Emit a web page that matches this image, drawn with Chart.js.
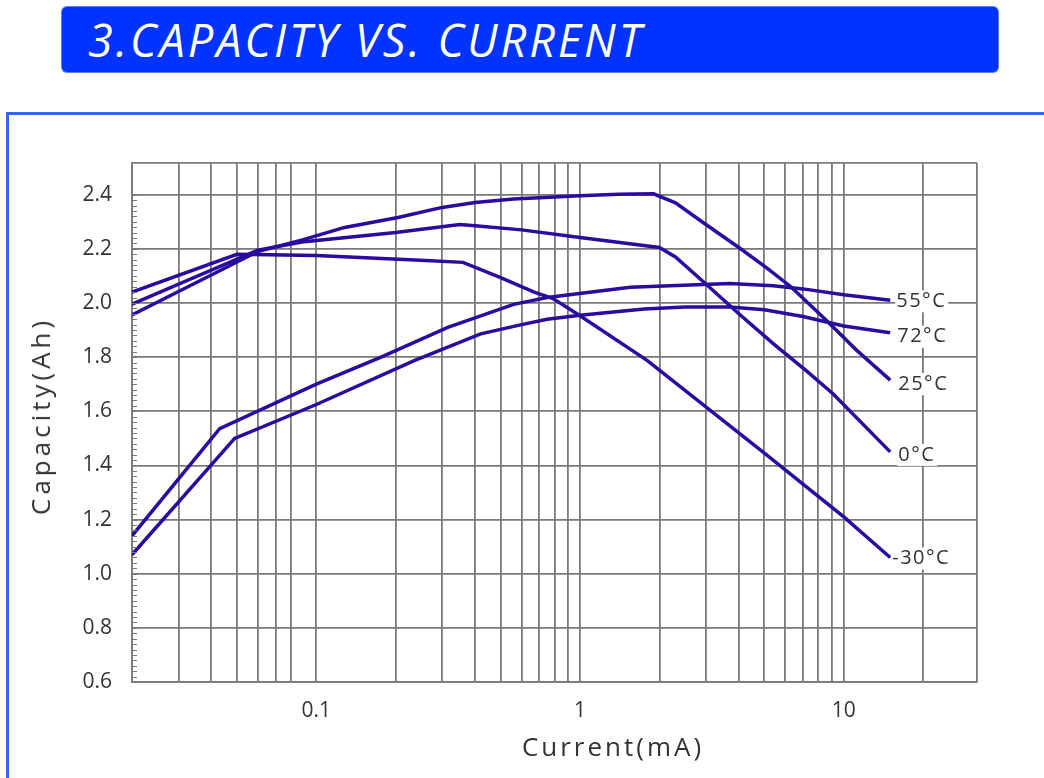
<!DOCTYPE html>
<html>
<head>
<meta charset="utf-8">
<title>Capacity vs. Current</title>
<script src="https://cdn.jsdelivr.net/npm/chart.js@4.4.1/dist/chart.umd.min.js"></script>
<style>
    html, body { margin: 0; padding: 0; background: #fff; }
    body { width: 1044px; height: 778px; position: relative; overflow: hidden; font-family: 'Open Sans', sans-serif; }
    .banner {
        position: absolute; left: 62px; top: 7px; width: 936px; height: 65px;
        background: #0033ff; border-radius: 5px; box-shadow: 0 0 0 1px #5c80ff;
    }
    .banner span {
        position: absolute; left: 26px; top: 3px; color: #fff; letter-spacing: 3px;
        font-style: italic; font-size: 45px; line-height: 60px; white-space: pre;
    }
    .frame {
        position: absolute; left: 6px; top: 112px; width: 1060px; height: 700px;
        border-top: 3px solid #3364ff; border-left: 3px solid #3364ff;
    }
    #wrap { position: absolute; left: 0; top: 0; width: 1044px; height: 778px; }
    .ytitle {
        position: absolute; left: 40px; top: 416px; color: #333; font-size: 26px; letter-spacing: 4px;
        transform: translate(-50%, -50%) rotate(-90deg); white-space: nowrap;
    }
    .xtitle {
        position: absolute; left: 613px; top: 746px; color: #333; font-size: 26px; letter-spacing: 3px;
        transform: translate(-50%, -50%); white-space: nowrap;
    }
</style>
</head>
<body>
<div class="banner"><span>3.CAPACITY VS. CURRENT</span></div>
<div class="frame"></div>
<div id="wrap"><canvas id="chart" width="1044" height="778"></canvas></div>
<div class="ytitle">Capacity(Ah)</div>
<div class="xtitle">Current(mA)</div>
<script>
/* ---- data ---- */
const cur55 = [0.02, 0.043, 0.1, 0.176, 0.315, 0.56, 0.75, 1.55, 3.7, 5.4, 7, 10, 15];
const cap55 = [1.14, 1.536, 1.70, 1.80, 1.91, 1.995, 2.02, 2.058, 2.072, 2.064, 2.052, 2.03, 2.01];

const cur72 = [0.02, 0.049, 0.1, 0.235, 0.42, 0.6, 0.75, 1, 1.75, 2.5, 3.7, 5, 7, 10, 15];
const cap72 = [1.07, 1.50, 1.625, 1.787, 1.886, 1.92, 1.94, 1.955, 1.978, 1.985, 1.985, 1.975, 1.95, 1.915, 1.89];

const cur25 = [0.02, 0.06, 0.09, 0.128, 0.204, 0.3, 0.4, 0.56, 1, 1.4, 1.9, 2.3, 3, 4, 5.1, 6.3, 8.6, 11.2, 15];
const cap25 = [1.956, 2.19, 2.235, 2.279, 2.316, 2.353, 2.371, 2.384, 2.396, 2.402, 2.403, 2.37, 2.29, 2.205, 2.13, 2.06, 1.935, 1.825, 1.715];

const cur0 = [0.02, 0.06, 0.088, 0.2, 0.35, 0.4, 0.6, 1, 2, 2.3, 3, 4, 5.4, 7.2, 9.1, 15];
const cap0 = [1.996, 2.195, 2.225, 2.26, 2.29, 2.285, 2.27, 2.242, 2.205, 2.17, 2.07, 1.96, 1.85, 1.75, 1.665, 1.45];

const curM30 = [0.02, 0.05, 0.1, 0.26, 0.36, 0.5, 0.67, 0.79, 1, 1.8, 5, 10, 15];
const capM30 = [2.04, 2.18, 2.175, 2.157, 2.15, 2.094, 2.04, 2.016, 1.953, 1.787, 1.445, 1.21, 1.06];

const seriesNames = ['55°C', '72°C', '25°C', '0°C', '-30°C'];

// grid lines on the current axis (the reference skips 0.09), and the labelled ones
const currentGrid = [0.02, 0.03, 0.04, 0.05, 0.06, 0.07, 0.08, 0.1,
    0.2, 0.3, 0.4, 0.5, 0.6, 0.7, 0.8, 0.9, 1,
    2, 3, 4, 5, 6, 7, 8, 9, 10, 20, 32];
const currentLabels = [0.1, 1, 10];
const capacityTicks = [0.6, 0.8, 1.0, 1.2, 1.4, 1.6, 1.8, 2.0, 2.2, 2.4];
const capacityMin = 0.6;
const capacityMax = 2.517;
const currentMin = 0.02;
const currentMax = 32;

/* ---- styles ---- */
const LINE = '#2a0aa0';
const GRID = '#7a7a7a';
const TEXT = '#333';
const labelOffsets = [[6, 1], [7, 4], [8, 4], [8, 3], [2, 1]];

const toPoints = (xs, ys) => xs.map((x, i) => ({ x, y: ys[i] }));
const seriesData = [
    toPoints(cur55, cap55),
    toPoints(cur72, cap72),
    toPoints(cur25, cap25),
    toPoints(cur0, cap0),
    toPoints(curM30, capM30),
];

// small inside ticks every 0.02 Ah on the capacity axis
const minorTicks = {
    id: 'minorTicks',
    afterDraw(chart) {
        const { ctx, chartArea, scales } = chart;
        ctx.save();
        ctx.strokeStyle = GRID;
        ctx.lineWidth = 1;
        for (let i = 30; i <= 120; i++) {
            const y = Math.round(scales.y.getPixelForValue(i / 50)) + 0.5;
            ctx.beginPath();
            ctx.moveTo(chartArea.left, y);
            ctx.lineTo(chartArea.left + 5, y);
            ctx.stroke();
        }
        ctx.restore();
    },
};

// temperature names at the end of each curve
const endLabels = {
    id: 'endLabels',
    afterDatasetsDraw(chart) {
        const ctx = chart.ctx;
        ctx.save();
        ctx.font = '20px "Open Sans", sans-serif';
        ctx.letterSpacing = '1.5px';
        ctx.textBaseline = 'middle';
        chart.data.datasets.forEach((ds, i) => {
            const pts = chart.getDatasetMeta(i).data;
            const p = pts[pts.length - 1];
            const [dx, dy] = labelOffsets[i];
            const tx = p.x + dx;
            const ty = p.y + dy;
            const w = ctx.measureText(ds.label).width;
            ctx.fillStyle = '#fff';
            ctx.fillRect(tx - 1, ty - 11, w + 3, 22);
            ctx.fillStyle = TEXT;
            ctx.fillText(ds.label, tx, ty);
        });
        ctx.restore();
    },
};

new Chart(document.getElementById('chart'), {
    type: 'line',
    data: {
        datasets: seriesData.map((data, i) => ({
            label: seriesNames[i],
            data,
            borderColor: LINE,
            borderWidth: 3.5,
            pointRadius: 0,
            tension: 0,
            fill: false,
        })),
    },
    options: {
        responsive: false,
        animation: false,
        events: [],
        layout: { padding: { left: 0, top: 163, right: 67, bottom: 0 } },
        plugins: {
            legend: { display: false },
            tooltip: { enabled: false },
        },
        scales: {
            x: {
                type: 'logarithmic',
                min: currentMin,
                max: currentMax,
                afterBuildTicks: s => { s.ticks = currentGrid.map(v => ({ value: v })); },
                afterFit: s => { s.height = 96; },
                grid: { color: GRID, lineWidth: 1.8, drawTicks: false },
                border: { color: GRID, width: 1.8 },
                ticks: {
                    autoSkip: false,
                    maxRotation: 0,
                    padding: 16,
                    color: TEXT,
                    font: { family: "'Open Sans', sans-serif", size: 21 },
                    callback: v => currentLabels.includes(v) ? String(v) : '',
                },
            },
            y: {
                type: 'linear',
                min: capacityMin,
                max: capacityMax,
                afterBuildTicks: s => {
                    s.ticks = capacityTicks.concat([capacityMax]).map(v => ({ value: v }));
                },
                afterFit: s => { s.width = 132; },
                grid: { color: GRID, lineWidth: 1.8, drawTicks: false },
                border: { color: GRID, width: 1.8 },
                ticks: {
                    padding: 20,
                    color: TEXT,
                    font: { family: "'Open Sans', sans-serif", size: 21 },
                    callback: v => capacityTicks.includes(v) ? v.toFixed(1) : '',
                },
            },
        },
    },
    plugins: [minorTicks, endLabels],
});
</script>
</body>
</html>
